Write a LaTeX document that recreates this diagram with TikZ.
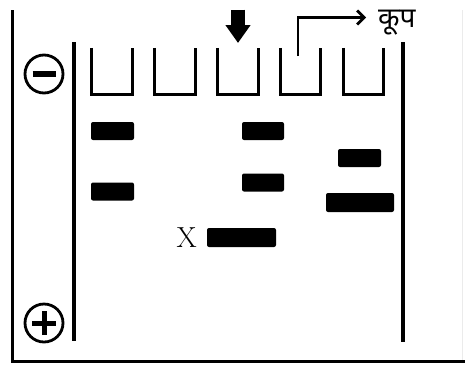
\documentclass[tikz,border=0pt]{standalone}
\usepackage{fontspec}
\newfontfamily\devfont[Script=Devanagari]{Noto Sans}
\usetikzlibrary{arrows.meta}
\begin{document}
\begin{tikzpicture}[x=1pt,y=-1pt,
  frame/.style={line width=3pt,black},
  faint/.style={line width=1pt,black!8},
  lane/.style={line width=3.2pt,black},
  wellline/.style={line width=3pt,black,line join=miter},
  band/.style={fill=black,rounded corners=2pt,inner sep=0pt,minimum height=18pt},
  sign/.style={circle,draw,line width=2.8pt,minimum size=38pt,inner sep=0pt},
  wellpt/.style={inner sep=0pt,minimum width=40pt,minimum height=46pt}
]
\useasboundingbox (0,0) rectangle (465,365);
% outer frame
\coordinate (ftl) at (12,10);
\coordinate (fbl) at (12,361);
\coordinate (fbr) at (465,361);
\coordinate (frt) at (462,10);
\draw[faint] (frt) -- (462,360);
\draw[frame] (ftl) -- (fbl) -- (fbr);
% lane walls
\coordinate (lt) at (74,42);
\coordinate (lb) at (74,341);
\coordinate (rt) at (403,42);
\coordinate (rb) at (403,342);
\draw[lane] (lt) -- (lb);
\draw[lane] (rt) -- (rb);
% wells
\foreach \i/\x in {1/112,2/175,3/238,4/300.5,5/363.5}{
  \node[wellpt] (w\i) at (\x,71) {};
  \draw[wellline] (w\i.north west) -- (w\i.south west) -- (w\i.south east) -- (w\i.north east);
}
% electrodes
\node[sign] (minus) at (44,74) {};
\draw[line width=5.5pt] ([xshift=-11.5pt]minus.center) -- ([xshift=11.5pt]minus.center);
\node[sign] (plus) at (44,323) {};
\draw[line width=5pt] ([xshift=-12pt]plus.center) -- ([xshift=12pt]plus.center);
\draw[line width=5pt] ([yshift=-12pt]plus.center) -- ([yshift=12pt]plus.center);
% loading arrow
\coordinate (dtop) at (238,9.5);
\coordinate (dtip) at (238,43);
\draw[line width=14pt,-{Triangle[length=18pt,width=24pt]}] (dtop) -- (dtip);
% well label
\node[font=\devfont\fontsize{28}{30}\selectfont,anchor=base west,inner sep=0pt] (koop) at (378,27) {कूप};
\coordinate (ws) at (298,56);
\coordinate (we) at (366,17.5);
\draw[line width=2.8pt,-{Straight Barb[length=7pt,width=14pt]}] (ws) |- (we);
% bands
\node[band,minimum width=43pt] (b1) at (112.5,131) {};
\node[band,minimum width=43pt] (b2) at (112.5,191.5) {};
\node[band,minimum width=42pt] (b3) at (263,131) {};
\node[band,minimum width=42pt] (b4) at (263,182.5) {};
\node[band,minimum width=43pt] (b5) at (359.5,158) {};
\node[band,minimum width=68pt,minimum height=19pt] (b6) at (360,202.5) {};
\node[band,minimum width=69pt,minimum height=19pt] (b7) at (241.5,237.5) {};
\node[font=\fontsize{29}{30}\selectfont,inner sep=0pt,anchor=east] (xl) at ([xshift=-10pt]b7.west) {X};
\end{tikzpicture}
\end{document}
